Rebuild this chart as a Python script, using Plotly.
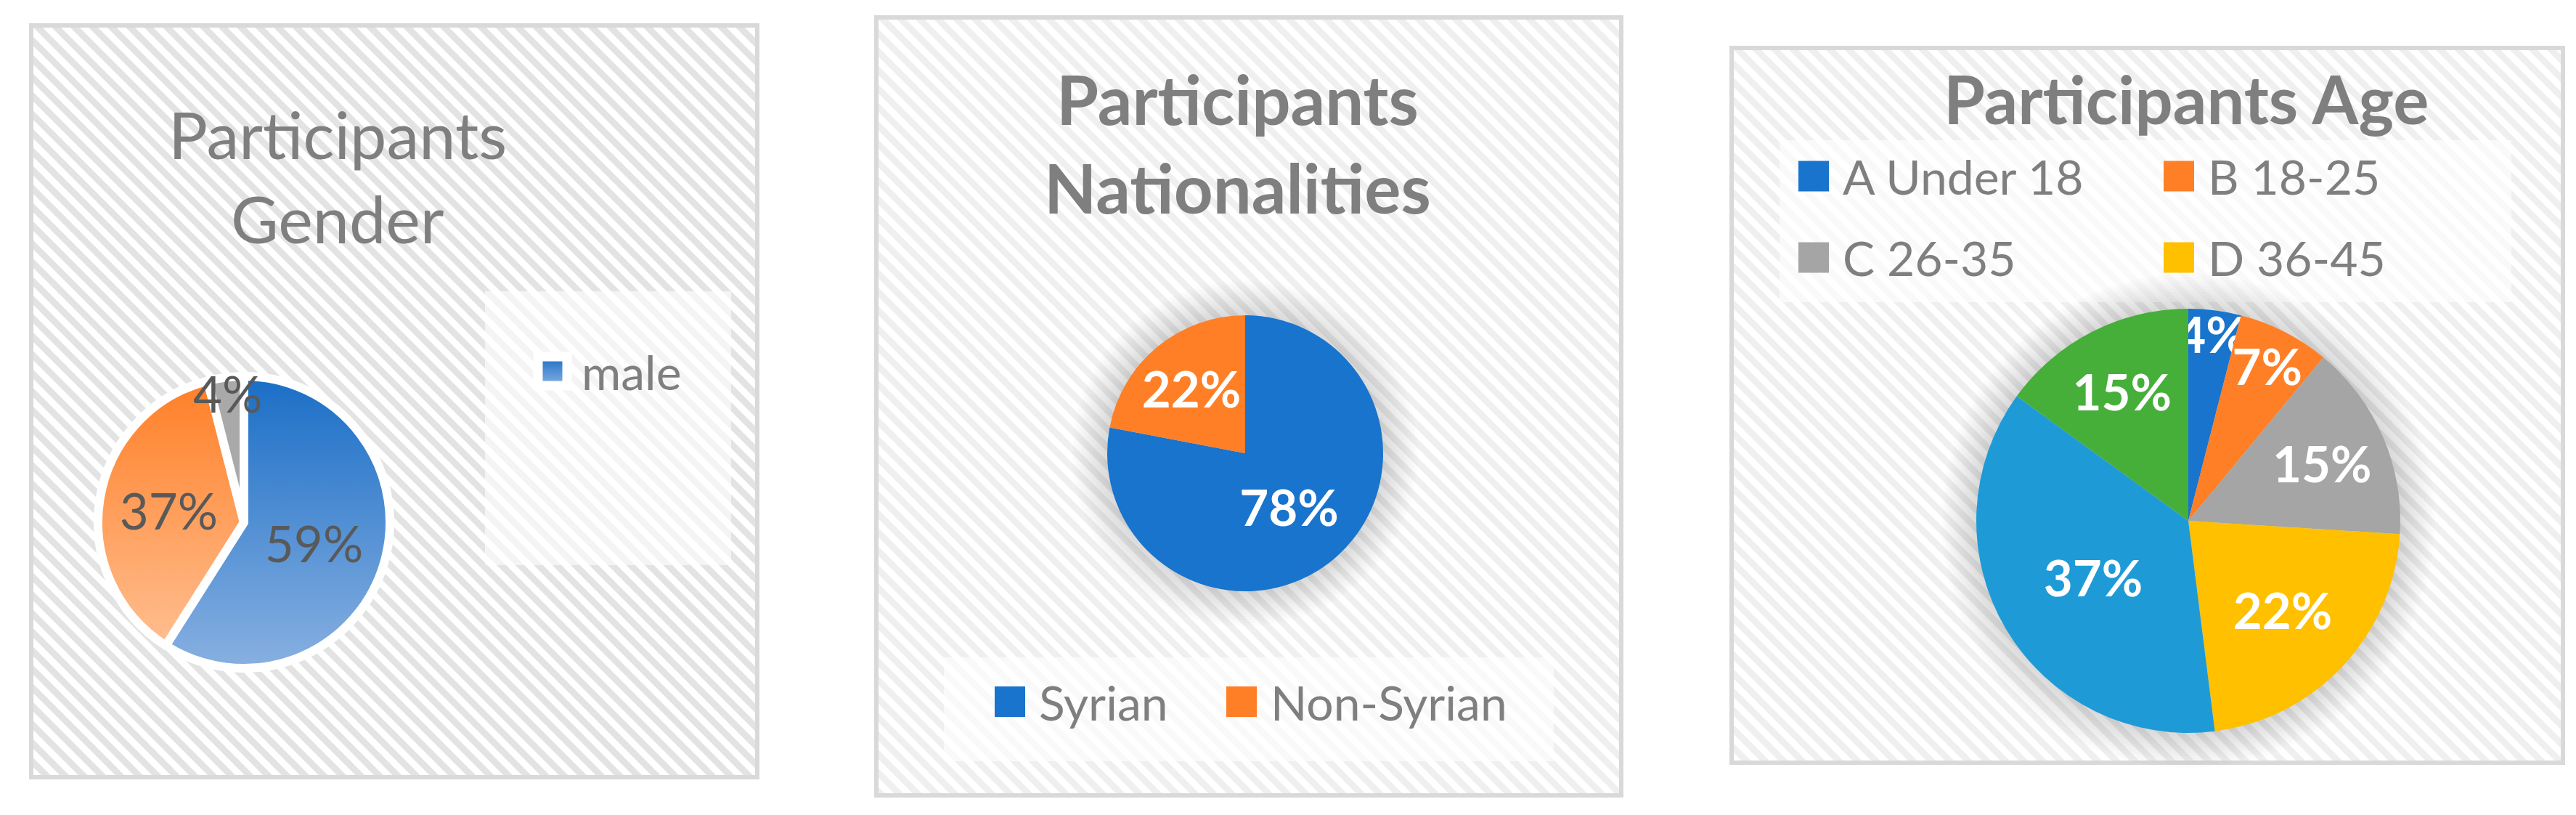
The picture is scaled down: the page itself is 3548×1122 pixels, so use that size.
import base64
import plotly.graph_objects as go

W, H = 3548, 1122

gender_labels = ["male", "female", "other"]
gender_values = [59, 37, 4]
gender_colors = ["#4A86D2", "#FE9B5B", "#A9A9A9"]

nat_labels = ["Syrian", "Non-Syrian"]
nat_values = [78, 22]
nat_colors = ["#1874CD", "#FF7F27"]

age_labels = ["A Under 18", "B 18-25", "C 26-35", "D 36-45", "E 46-55", "F Over 55"]
age_values = [4, 7, 15, 22, 37, 15]
age_colors = ["#1874CD", "#FF7F27", "#A5A5A5", "#FFC000", "#1E9BD7", "#46AF3A"]

# how many legend entries each original chart showed
legend_shown = {"legend": 1, "legend2": 2, "legend3": 4}

FONT = "Lato"
GREY = "#7F7F7F"
LABEL_SIZE = 69


def fx(x):
    return x / W


def fy(y):
    return 1 - y / H


def dom(cx, cy, r):
    return dict(x=[fx(cx - r), fx(cx + r)], y=[fy(cy + r), fy(cy - r)])


def hatch(w, h, stripe):
    svg = (
        f'<svg xmlns="http://www.w3.org/2000/svg" width="{w}" height="{h}">'
        '<defs><pattern id="p" width="18" height="18" patternUnits="userSpaceOnUse" '
        'patternTransform="rotate(-45)">'
        '<rect width="18" height="18" fill="#FFFFFF"/>'
        f'<rect width="9" height="18" fill="{stripe}"/></pattern></defs>'
        f'<rect width="{w}" height="{h}" fill="url(#p)"/></svg>'
    )
    return "data:image/svg+xml;base64," + base64.b64encode(svg.encode()).decode()


fig = go.Figure()

fig.add_trace(go.Pie(
    labels=gender_labels, values=gender_values, sort=False, direction="clockwise",
    marker=dict(colors=gender_colors, line=dict(color="white", width=12)),
    texttemplate="%{percent:.0%}", textposition="inside",
    insidetextorientation="horizontal",
    textfont=dict(family=FONT, size=LABEL_SIZE, color="#595959"),
    domain=dom(328, 711, 201), legend="legend", hoverinfo="label+percent",
))
fig.add_trace(go.Pie(
    labels=nat_labels, values=nat_values, sort=False, direction="clockwise",
    marker=dict(colors=nat_colors),
    texttemplate="%{percent:.0%}", textposition="inside",
    insidetextorientation="horizontal",
    textfont=dict(family=FONT, size=LABEL_SIZE, color="white", weight="bold"),
    domain=dom(1707, 616, 190), legend="legend2", hoverinfo="label+percent",
))
fig.add_trace(go.Pie(
    labels=age_labels, values=age_values, sort=False, direction="clockwise",
    marker=dict(colors=age_colors),
    texttemplate="%{percent:.0%}", textposition="inside",
    insidetextorientation="horizontal",
    textfont=dict(family=FONT, size=LABEL_SIZE, color="white", weight="bold"),
    domain=dom(3006, 709, 292), legend="legend3", hoverinfo="label+percent",
))

# panel backgrounds, borders and legend boxes
panels = [(35, 27, 1035, 1062, "#E3E3E3"), (1199, 16, 2225, 1087, "#EFEFEF"),
          (2377, 58, 3522, 1042, "#EFEFEF")]
images, shapes = [], []
for x0, y0, x1, y1, stripe in panels:
    images.append(dict(source=hatch(x1 - x0, y1 - y0, stripe), xref="paper", yref="paper",
                       x=fx(x0), y=fy(y0), sizex=(x1 - x0) / W, sizey=(y1 - y0) / H,
                       xanchor="left", yanchor="top", sizing="stretch", layer="below"))
    shapes.append(dict(type="rect", xref="paper", yref="paper", x0=fx(x0), x1=fx(x1),
                       y0=fy(y1), y1=fy(y0), line=dict(color="#D9D9D9", width=6),
                       layer="below"))
for x0, y0, x1, y1 in [(660, 393, 999, 770), (1292, 897, 2132, 1040), (2443, 185, 3451, 408)]:
    shapes.append(dict(type="rect", xref="paper", yref="paper", x0=fx(x0), x1=fx(x1),
                       y0=fy(y1), y1=fy(y0), fillcolor="rgba(255,255,255,0.6)",
                       line=dict(width=0), layer="below"))
# soft shadow round the two flat pies
for cx, cy, r in [(1707, 616, 190), (3006, 709, 292)]:
    for k in range(1, 13):
        rr = r + 4 * k
        shapes.append(dict(type="circle", xref="paper", yref="paper",
                           x0=fx(cx - rr), x1=fx(cx + rr), y0=fy(cy + rr), y1=fy(cy - rr),
                           fillcolor="rgba(0,0,0,0.013)", line=dict(width=0), layer="below"))

# one annotation per title line
titles = [
    ("Participants", 457, 176, "normal", 90),
    ("Gender", 457, 292, "normal", 90),
    ("Participants", 1696, 128, "bold", 94),
    ("Nationalities", 1696, 250, "bold", 94),
    ("Participants Age", 3003, 128, "bold", 92),
]
annotations = [
    dict(text=t, x=fx(x), y=fy(y), xref="paper", yref="paper", showarrow=False,
         xanchor="center", yanchor="middle", align="center",
         font=dict(family=FONT, size=sz, color=GREY, weight=wt))
    for t, x, y, wt, sz in titles
]

legend_font = dict(family=FONT, size=66, color=GREY)
fig.update_layout(
    width=W, height=H, margin=dict(l=0, r=0, t=0, b=0, autoexpand=False),
    paper_bgcolor="white", plot_bgcolor="white",
    images=images, shapes=shapes, annotations=annotations,
    uniformtext=dict(minsize=LABEL_SIZE, mode="show"),
    legend=dict(orientation="v", x=fx(713), y=fy(592), xanchor="left", yanchor="middle",
                font=legend_font, bgcolor="rgba(0,0,0,0)", itemwidth=70),
    legend2=dict(orientation="h", x=fx(1343), y=fy(958), xanchor="left", yanchor="middle",
                 font=legend_font, bgcolor="rgba(0,0,0,0)", itemwidth=70,
                 entrywidth=234, entrywidthmode="pixels"),
    # drawn as a column, rearranged into the 2 x 2 grid of the original below
    legend3=dict(orientation="v", x=fx(2450), y=fy(185), xanchor="left", yanchor="top",
                 font=legend_font, bgcolor="rgba(0,0,0,0)", itemwidth=70),
)

post_js = """
var gd = document.getElementById('{plot_id}');
var ns = 'http://www.w3.org/2000/svg';
var shown = %s;
var ROW = 112, COL = 503;
var obs = null;
function grad(defs, id, c0, c1) {
  if (document.getElementById(id)) { return; }
  var lg = document.createElementNS(ns, 'linearGradient');
  lg.setAttribute('id', id);
  lg.setAttribute('x1', '0'); lg.setAttribute('y1', '0');
  lg.setAttribute('x2', '0'); lg.setAttribute('y2', '1');
  [[0, c0], [1, c1]].forEach(function (s) {
    var st = document.createElementNS(ns, 'stop');
    st.setAttribute('offset', s[0]); st.setAttribute('stop-color', s[1]);
    lg.appendChild(st);
  });
  defs.appendChild(lg);
}
function pos(g) {
  var m = /translate\\(\\s*([-\\d.e]+)[ ,]+([-\\d.e]+)/.exec(g.getAttribute('transform') || '');
  return m ? [parseFloat(m[1]), parseFloat(m[2])] : [0, 0];
}
function fix() {
  Object.keys(shown).forEach(function (id) {
    gd.querySelectorAll('g.' + id + ' g.traces').forEach(function (g, i) {
      if (i < shown[id]) { return; }
      var t = g.querySelector('text.legendtext');
      if (t) { t.textContent = ''; }
      g.setAttribute('transform', 'translate(0,0)');
      g.style.display = 'none';
    });
  });
  gd.querySelectorAll('g.scrollbox').forEach(function (s) { s.removeAttribute('clip-path'); });
  var defs = gd.querySelector('svg.main-svg defs');
  grad(defs, 'gblue', '#1A6EC6', '#88B0E1');
  grad(defs, 'gorange', '#FF7F27', '#FFBE90');
  var fills = ['url(#gblue)', 'url(#gorange)', null];
  var pies = gd.querySelectorAll('.pielayer .trace');
  if (pies.length) {
    pies[0].querySelectorAll('path.surface').forEach(function (p, i) {
      if (fills[i]) { p.style.fill = fills[i]; }
    });
  }
  gd.querySelectorAll('path.legendpie').forEach(function (p) {
    if (p.closest('g.legend')) {
      p.setAttribute('d', 'M20,20H-20V-20H20Z');
      p.style.fill = 'url(#gblue)';
      p.style.stroke = '#FFFFFF';
      p.style.strokeWidth = '13px';
    } else {
      p.setAttribute('d', 'M21,21H-21V-21H21Z');
      p.style.strokeWidth = '0px';
    }
  });
  var items = gd.querySelectorAll('g.legend3 g.traces');
  if (items.length >= 4) {
    var a = pos(items[0]);
    items[1].setAttribute('transform', 'translate(' + (a[0] + COL) + ',' + a[1] + ')');
    items[2].setAttribute('transform', 'translate(' + a[0] + ',' + (a[1] + ROW) + ')');
    items[3].setAttribute('transform', 'translate(' + (a[0] + COL) + ',' + (a[1] + ROW) + ')');
  }
  if (obs) { obs.takeRecords(); }
}
fix();
obs = new MutationObserver(function () { fix(); });
obs.observe(gd, {childList: true, subtree: true});
gd.on('plotly_afterplot', fix);
[50, 300, 1000, 2500].forEach(function (ms) { setTimeout(fix, ms); });
""" % str(legend_shown).replace("'", '"')

fig.write_html("out.html", post_script=post_js, config=dict(displayModeBar=False))
